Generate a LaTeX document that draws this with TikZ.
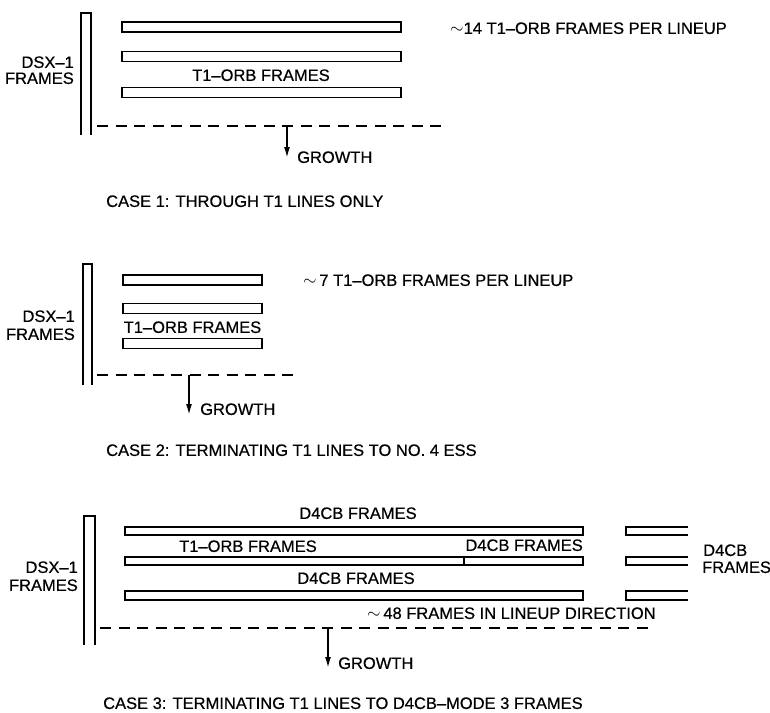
\documentclass[tikz,border=0pt]{standalone}
\usepackage{fontspec}
\setmainfont{Liberation Sans}
\newfontfamily\lblfont{Liberation Sans}[FakeBold=0.5]
\usetikzlibrary{arrows.meta}
\begin{document}
\begin{tikzpicture}[x=1pt,y=-1pt,
  lbl/.style={inner sep=0pt, font=\lblfont\fontsize{16.5}{19}\selectfont, text height=11.8pt, text depth=0pt},
  frm/.style={draw, line width=1.7pt, inner sep=0pt, minimum height=#1},
  frm/.default=10pt,
  bar/.style={line width=1.7pt},
  dashline/.style={line width=1.7pt, dash pattern=on 11pt off 7.5pt},
  growarrow/.style={line width=1.7pt, -{Latex[length=11pt,width=6pt]}}]
\fill[white] (0,0) rectangle (770,712);
\useasboundingbox (0,0) rectangle (770,712);

% ---------------- CASE 1 ----------------
\draw[bar] (81,135) -- (81,13) -- (91,13) -- (91,135);
\node[lbl, anchor=east] (c1dsx) at (74,62) {DSX–1};
\node[lbl, anchor=east] (c1dsxf) at (74,78) {FRAMES};
\node[frm, minimum width=279pt] (c1a) at (261.5,27) {};
\node[frm, minimum width=279pt] (c1b) at (261.5,56.5) {};
\node[frm, minimum width=279pt] (c1c) at (261.5,92.5) {};
\node[lbl] (c1t) at (261,75) {T1–ORB FRAMES};
\node[lbl, anchor=west] (c1n) at (450,28) {$\sim$14 T1–ORB FRAMES PER LINEUP};
\coordinate (c1l) at (97,126);
\coordinate (c1r) at (447,126);
\draw[dashline] (c1l) -- (c1r);
\coordinate (c1g) at (287,126);
\coordinate (c1h) at (287,158);
\draw[growarrow] (c1g) -- (c1h);
\node[lbl, anchor=west] (c1grow) at (297,157) {GROWTH};
\node[lbl, anchor=west] (c1cap) at (106,201) {CASE 1: THROUGH T1 LINES ONLY};

% ---------------- CASE 2 ----------------
\draw[bar] (83,385) -- (83,264) -- (92,264) -- (92,385);
\node[lbl, anchor=east] (c2dsx) at (75,316) {DSX–1};
\node[lbl, anchor=east] (c2dsxf) at (75,334) {FRAMES};
\node[frm, minimum width=139pt] (c2a) at (192.5,280) {};
\node[frm, minimum width=139pt] (c2b) at (192.5,308.5) {};
\node[frm, minimum width=139pt] (c2c) at (192.5,343.5) {};
\node[lbl] (c2t) at (192.5,327) {T1–ORB FRAMES};
\node[lbl, anchor=west] (c2n) at (303,280) {$\sim$\,7 T1–ORB FRAMES PER LINEUP};
\coordinate (c2l) at (97,375);
\coordinate (c2r) at (293,375);
\draw[dashline] (c2l) -- (c2r);
\coordinate (c2g) at (189,375);
\coordinate (c2h) at (189,415);
\draw[growarrow] (c2g) -- (c2h);
\node[lbl, anchor=west] (c2grow) at (200,409) {GROWTH};
\node[lbl, anchor=west] (c2cap) at (106,450) {CASE 2: TERMINATING T1 LINES TO NO. 4 ESS};

% ---------------- CASE 3 ----------------
\draw[bar] (84,645) -- (84,516) -- (95,516) -- (95,645);
\node[lbl, anchor=east] (c3dsx) at (78,567) {DSX–1};
\node[lbl, anchor=east] (c3dsxf) at (78,585) {FRAMES};
\node[frm=8.5pt, minimum width=458pt] (c3a) at (354,531) {};
\node[frm=8.5pt, minimum width=458pt] (c3b) at (354,561) {};
\node[frm=8.5pt, minimum width=458pt] (c3c) at (354,595.5) {};
\draw[bar] (464,556.75) -- (464,565.25);
\draw[bar] (688,527) -- (626,527) -- (626,535) -- (688,535);
\draw[bar] (688,557) -- (626,557) -- (626,565) -- (688,565);
\draw[bar] (688,591) -- (626,591) -- (626,600) -- (688,600);
\node[lbl] (c3ta) at (358,513) {D4CB FRAMES};
\node[lbl] (c3tb) at (248,546) {T1–ORB FRAMES};
\node[lbl, anchor=east] (c3tc) at (583,545) {D4CB FRAMES};
\node[lbl] (c3td) at (356,578) {D4CB FRAMES};
\node[lbl, anchor=west] (c3re) at (703,550) {D4CB};
\node[lbl, anchor=west] (c3ref) at (702,567) {FRAMES};
\node[lbl, anchor=west] (c3n) at (367,613) {$\sim$\,48 FRAMES IN LINEUP DIRECTION};
\coordinate (c3l) at (100,628);
\coordinate (c3r) at (655,628);
\draw[dashline] (c3l) -- (c3r);
\coordinate (c3g) at (328,628);
\coordinate (c3h) at (328,668);
\draw[growarrow] (c3g) -- (c3h);
\node[lbl, anchor=west] (c3grow) at (338,663) {GROWTH};
\node[lbl, anchor=west] (c3cap) at (103,703) {CASE 3: TERMINATING T1 LINES TO D4CB–MODE 3 FRAMES};
\end{tikzpicture}
\end{document}
